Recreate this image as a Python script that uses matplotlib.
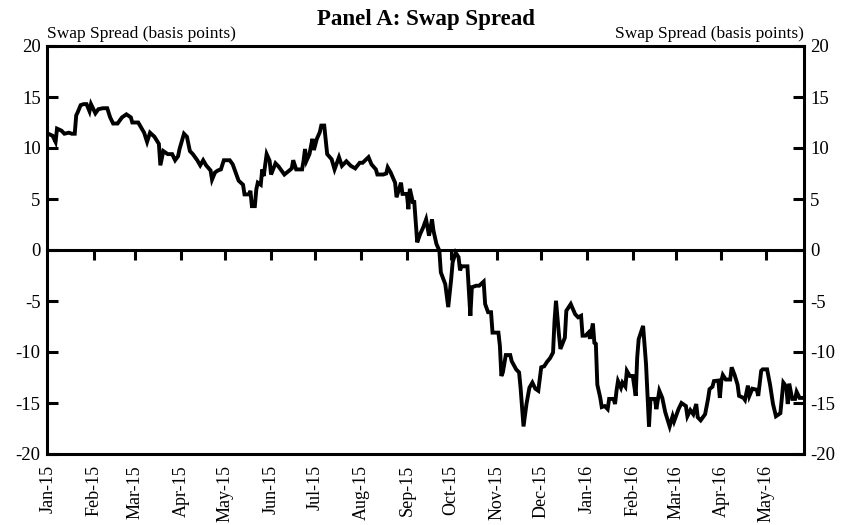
import numpy as np
import matplotlib
matplotlib.use("Agg")
import matplotlib.pyplot as plt
import matplotlib.dates as mdates

plt.rcParams['font.family'] = ['Liberation Serif', 'DejaVu Serif']
plt.rcParams['axes.unicode_minus'] = False

title = "Panel A: Swap Spread"
axis_label = "Swap Spread (basis points)"
y_ticks = [20, 15, 10, 5, 0, -5, -10, -15, -20]
# months marked on the zero line (first month sits on the left border)
zero_line_months = np.arange('2015-02', '2016-06', dtype='datetime64[M]')

# calendar days since 2015-01-01
start_date = np.datetime64('2015-01-01')
day_offset = [
    0, 3, 5, 6, 9, 11, 14, 16, 18, 19,
    20, 22, 24, 26, 28, 29, 32, 34, 37, 40,
    42, 44, 47, 50, 53, 56, 57, 61, 63, 65,
    67, 69, 72, 75, 76, 78, 79, 81, 84, 86,
    88, 89, 92, 94, 96, 98, 101, 103, 105, 107,
    110, 111, 113, 115, 117, 119, 123, 125, 127, 129,
    132, 133, 136, 137, 138, 140, 141, 142, 144, 145,
    146, 148, 150, 151, 154, 156, 160, 163, 165, 166,
    168, 172, 173, 174, 175, 177, 179, 180, 182, 184,
    185, 187, 189, 192, 194, 197, 199, 202, 205, 208,
    211, 213, 217, 219, 222, 223, 227, 229, 230, 232,
    235, 236, 239, 240, 243, 244, 245, 247, 248, 250,
    252, 254, 256, 258, 260, 261, 263, 265, 266, 269,
    271, 273, 274, 276, 278, 279, 280, 284, 286, 287,
    290, 292, 295, 296, 298, 300, 301, 305, 306, 307,
    308, 310, 313, 314, 317, 319, 320, 322, 324, 326,
    328, 330, 332, 334, 336, 338, 340, 342, 343, 344,
    346, 347, 350, 351, 354, 357, 359, 361, 362, 364,
    366, 367, 369, 370, 371, 372, 374, 375, 377, 379,
    380, 383, 384, 385, 386, 388, 389, 391, 392, 394,
    396, 398, 399, 400, 403, 405, 407, 408, 411, 412,
    414, 416, 418, 421, 423, 424, 427, 429, 432, 433,
    435, 437, 439, 440, 442, 445, 447, 448, 450, 451,
    454, 455, 456, 457, 459, 462, 463, 465, 467, 468,
    471, 472, 474, 475, 477, 480, 481, 483, 484, 487,
    489, 491, 493, 496, 497, 498, 500, 501, 502, 504,
    506, 507, 509, 512,
]
swap_spread_bp = [
    11.4, 11.2, 10.6, 11.9, 11.7, 11.4, 11.5, 11.4, 11.4, 13.2,
    13.5, 14.2, 14.3, 14.3, 13.6, 14.3, 13.4, 13.8, 13.9, 13.9,
    13.0, 12.4, 12.4, 13.0, 13.3, 13.0, 12.5, 12.5, 12.0, 11.5,
    10.6, 11.5, 11.1, 10.4, 8.3, 9.7, 9.6, 9.4, 9.4, 8.8,
    9.2, 9.9, 11.4, 11.1, 9.7, 9.4, 8.8, 8.3, 8.8, 8.3,
    7.8, 6.9, 7.6, 7.8, 7.9, 8.8, 8.8, 8.4, 7.6, 6.8,
    6.4, 5.45, 5.45, 5.8, 4.3, 4.3, 5.95, 6.6, 6.4, 7.9,
    7.25, 9.4, 8.75, 7.4, 8.5, 8.2, 7.4, 7.75, 8.0, 8.8,
    7.9, 7.9, 8.75, 9.9, 8.75, 9.4, 10.9, 9.8, 10.9, 11.55,
    12.2, 12.2, 9.4, 8.9, 7.9, 9.1, 8.25, 8.7, 8.25, 8.0,
    8.55, 8.55, 9.1, 8.4, 7.9, 7.4, 7.4, 7.5, 8.1, 7.6,
    6.6, 5.17, 6.6, 5.5, 5.5, 4.0, 6.0, 4.7, 4.7, 0.75,
    1.57, 2.2, 3.0, 1.4, 3.0, 1.9, 0.6, -0.07, -2.2, -3.35,
    -5.6, -2.85, -1.2, -0.25, -0.7, -2.0, -1.6, -1.6, -6.45, -3.65,
    -3.5, -3.5, -3.1, -5.3, -6.1, -6.1, -8.1, -8.1, -9.4, -12.35,
    -12.0, -10.3, -10.3, -10.9, -11.7, -12.0, -13.5, -17.3, -15.1, -13.5,
    -13.0, -13.6, -13.8, -11.5, -11.4, -10.95, -10.6, -10.05, -6.95, -4.98,
    -8.3, -9.7, -8.6, -5.96, -5.3, -6.3, -6.6, -6.45, -8.4, -8.4,
    -8.1, -8.7, -7.2, -9.1, -9.2, -13.2, -14.5, -15.4, -15.3, -15.6,
    -14.6, -14.6, -15.1, -13.8, -12.85, -13.5, -13.0, -13.4, -11.85, -12.35,
    -12.35, -14.3, -10.55, -8.75, -7.44, -11.2, -17.3, -14.6, -14.6, -15.6,
    -13.8, -14.5, -15.9, -17.3, -16.3, -16.8, -15.6, -15.0, -15.3, -16.3,
    -15.7, -16.1, -15.1, -16.4, -16.7, -16.1, -14.6, -13.65, -13.4, -12.85,
    -12.8, -14.5, -12.85, -12.25, -12.7, -12.7, -11.5, -12.25, -13.2, -14.3,
    -14.5, -14.7, -13.3, -14.3, -13.6, -13.7, -14.3, -11.85, -11.7, -11.7,
    -13.2, -15.1, -16.3, -16.0, -14.5, -13.0, -13.4, -15.1, -13.1, -14.6,
    -14.6, -13.9, -14.5, -14.5,
]

dates = start_date + np.array(day_offset).astype('timedelta64[D]')

fig = plt.figure(figsize=(8.42, 5.25), dpi=100)
ax = fig.add_axes([47 / 842, 1 - 454 / 525, (804 - 47) / 842, (454 - 46) / 525])

ax.plot(dates, swap_spread_bp, color='black', lw=2.8, solid_joinstyle='miter')

ax.set_ylim(-20, 20)
ax.set_xlim(np.datetime64('2014-12-31T05:00'), dates[-1])
ax.set_yticks(y_ticks)
ax.set_yticklabels([str(v) for v in y_ticks])
ax.tick_params(axis='y', direction='in', length=8, width=2.2, left=True, right=True,
               labelleft=True, labelright=True, labelsize=13.5, pad=4.5)

ax.xaxis.set_major_locator(mdates.MonthLocator())
ax.xaxis.set_major_formatter(mdates.DateFormatter('%b-%y'))
ax.tick_params(axis='x', length=0, labelsize=13, pad=8, labelrotation=90)
for s in ax.spines.values():
    s.set_linewidth(2.2)

# zero line with downward month ticks
sec = ax.secondary_xaxis(0, transform=ax.transData)
sec.set_xticks(mdates.date2num(zero_line_months.astype('datetime64[D]')))
sec.tick_params(axis='x', direction='out', length=7, width=2.2,
                labelbottom=False, labeltop=False)
sec.spines['bottom'].set_linewidth(2.2)

fig.text(425.5 / 842, 1 - 25 / 525, title, ha='center', va='baseline',
         fontsize=16.5, fontweight='bold')
ax.annotate(axis_label, xy=(0, 1), xycoords='axes fraction', xytext=(0, 5.5),
            textcoords='offset points', ha='left', va='baseline', fontsize=12.5)
ax.annotate(axis_label, xy=(1, 1), xycoords='axes fraction', xytext=(0, 5.5),
            textcoords='offset points', ha='right', va='baseline', fontsize=12.5)

fig.savefig('out.png', dpi=100)
